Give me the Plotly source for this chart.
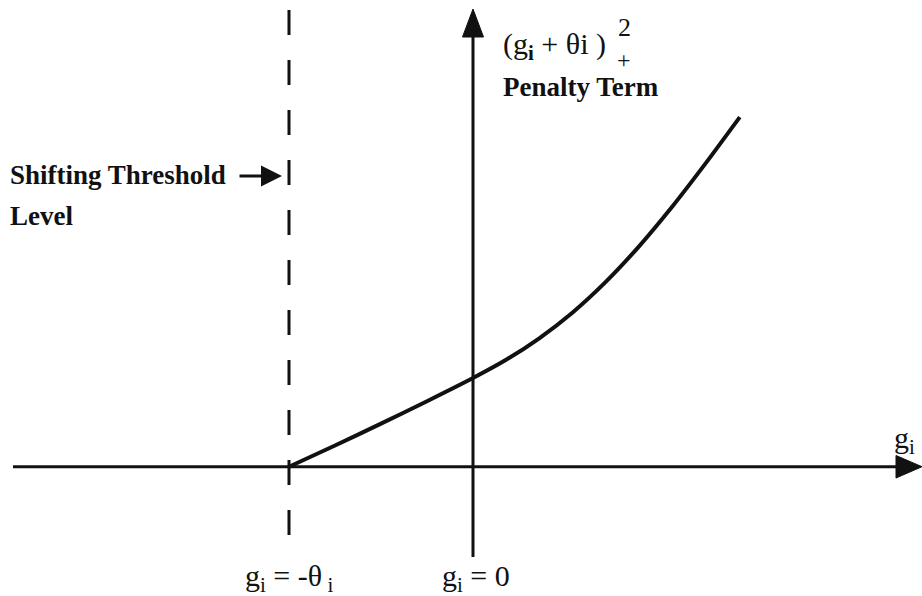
import plotly.graph_objects as go

# ---- data (g in units of theta, penalty in same scale) ----
THETA = 1.0
curve_g = [-1.0, -0.75, -0.5, -0.25, 0.0, 0.18, 0.36, 0.54, 0.72, 0.90, 1.08, 1.26, 1.45]
curve_p = [0.0, 0.115, 0.234, 0.356, 0.482, 0.581, 0.698, 0.837, 1.003, 1.195, 1.410, 1.643, 1.900]

W, H = 922, 596
X0PIX, Y0PIX, SCALE = 473.0, 466.7, 184.0  # origin pixel and px per unit


def px2x(px):
    return (px - X0PIX) / SCALE


def px2y(py):
    return (Y0PIX - py) / SCALE


XR = [px2x(0), px2x(W)]
YR = [px2y(H), px2y(0)]
FONT = "Liberation Serif"
BLACK = "#111111"

fig = go.Figure()

fig.add_trace(go.Scatter(
    x=curve_g, y=curve_p, mode="lines",
    line=dict(color=BLACK, width=4, shape="spline", smoothing=0.6),
    hoverinfo="skip", showlegend=False,
))

shapes = []
# horizontal axis
shapes.append(dict(type="line", x0=px2x(13), x1=px2x(900), y0=0, y1=0,
                   line=dict(color=BLACK, width=3)))
# vertical axis
shapes.append(dict(type="line", x0=0, x1=0, y0=px2y(557), y1=px2y(34),
                   line=dict(color=BLACK, width=3)))
# threshold dashed line
shapes.append(dict(type="line", x0=-THETA, x1=-THETA, y0=px2y(10), y1=px2y(540),
                   line=dict(color=BLACK, width=3, dash="25px,25px")))
# arrowheads
up = f"M {px2x(462.5)},{px2y(37)} L {px2x(473)},{px2y(9)} L {px2x(483.5)},{px2y(37)} Z"
rt = f"M {px2x(896)},{px2y(455.5)} L {px2x(922)},{px2y(466.7)} L {px2x(896)},{px2y(478)} Z"
for p in (up, rt):
    shapes.append(dict(type="path", path=p, fillcolor=BLACK,
                       line=dict(color=BLACK, width=1)))


def ann(text, px, py, size=26, xanchor="left", **kw):
    return dict(text=text, x=px2x(px), y=px2y(py), xref="x", yref="y",
                showarrow=False, xanchor=xanchor, yanchor="middle",
                font=dict(family=FONT, size=size, color=BLACK), **kw)


annotations = [
    ann("<b>Shifting Threshold</b>", 8, 175, size=27),
    ann("<b>Level</b>", 8, 216, size=27),
    ann("(g<sub><b>i</b></sub> + θi )", 501, 46, size=30),
    ann("2", 624, 27, size=26, xanchor="center"),
    ann("+", 624, 60, size=24, xanchor="center"),
    ann("<b>Penalty Term</b>", 501, 87, size=27),
    ann("g<sub>i</sub>", 892, 440, size=30),
    ann("g<sub>i</sub> = -θ<sub> i</sub>", 289, 578, size=30, xanchor="center"),
    ann("g<sub>i</sub> = 0", 476, 578, size=30, xanchor="center"),
    dict(x=px2x(282), y=px2y(176), ax=px2x(238), ay=px2y(176),
         xref="x", yref="y", axref="x", ayref="y", text="", showarrow=True,
         arrowhead=2, arrowsize=1.4, arrowwidth=3, arrowcolor=BLACK),
]

fig.update_layout(
    width=W, height=H, autosize=False,
    margin=dict(l=0, r=0, t=0, b=0),
    paper_bgcolor="white", plot_bgcolor="white",
    xaxis=dict(range=XR, visible=False, fixedrange=True),
    yaxis=dict(range=YR, visible=False, fixedrange=True),
    shapes=shapes, annotations=annotations, showlegend=False,
)

fig.write_html("out.html", config={"displayModeBar": False},
               post_script="document.body.style.margin='0';")
